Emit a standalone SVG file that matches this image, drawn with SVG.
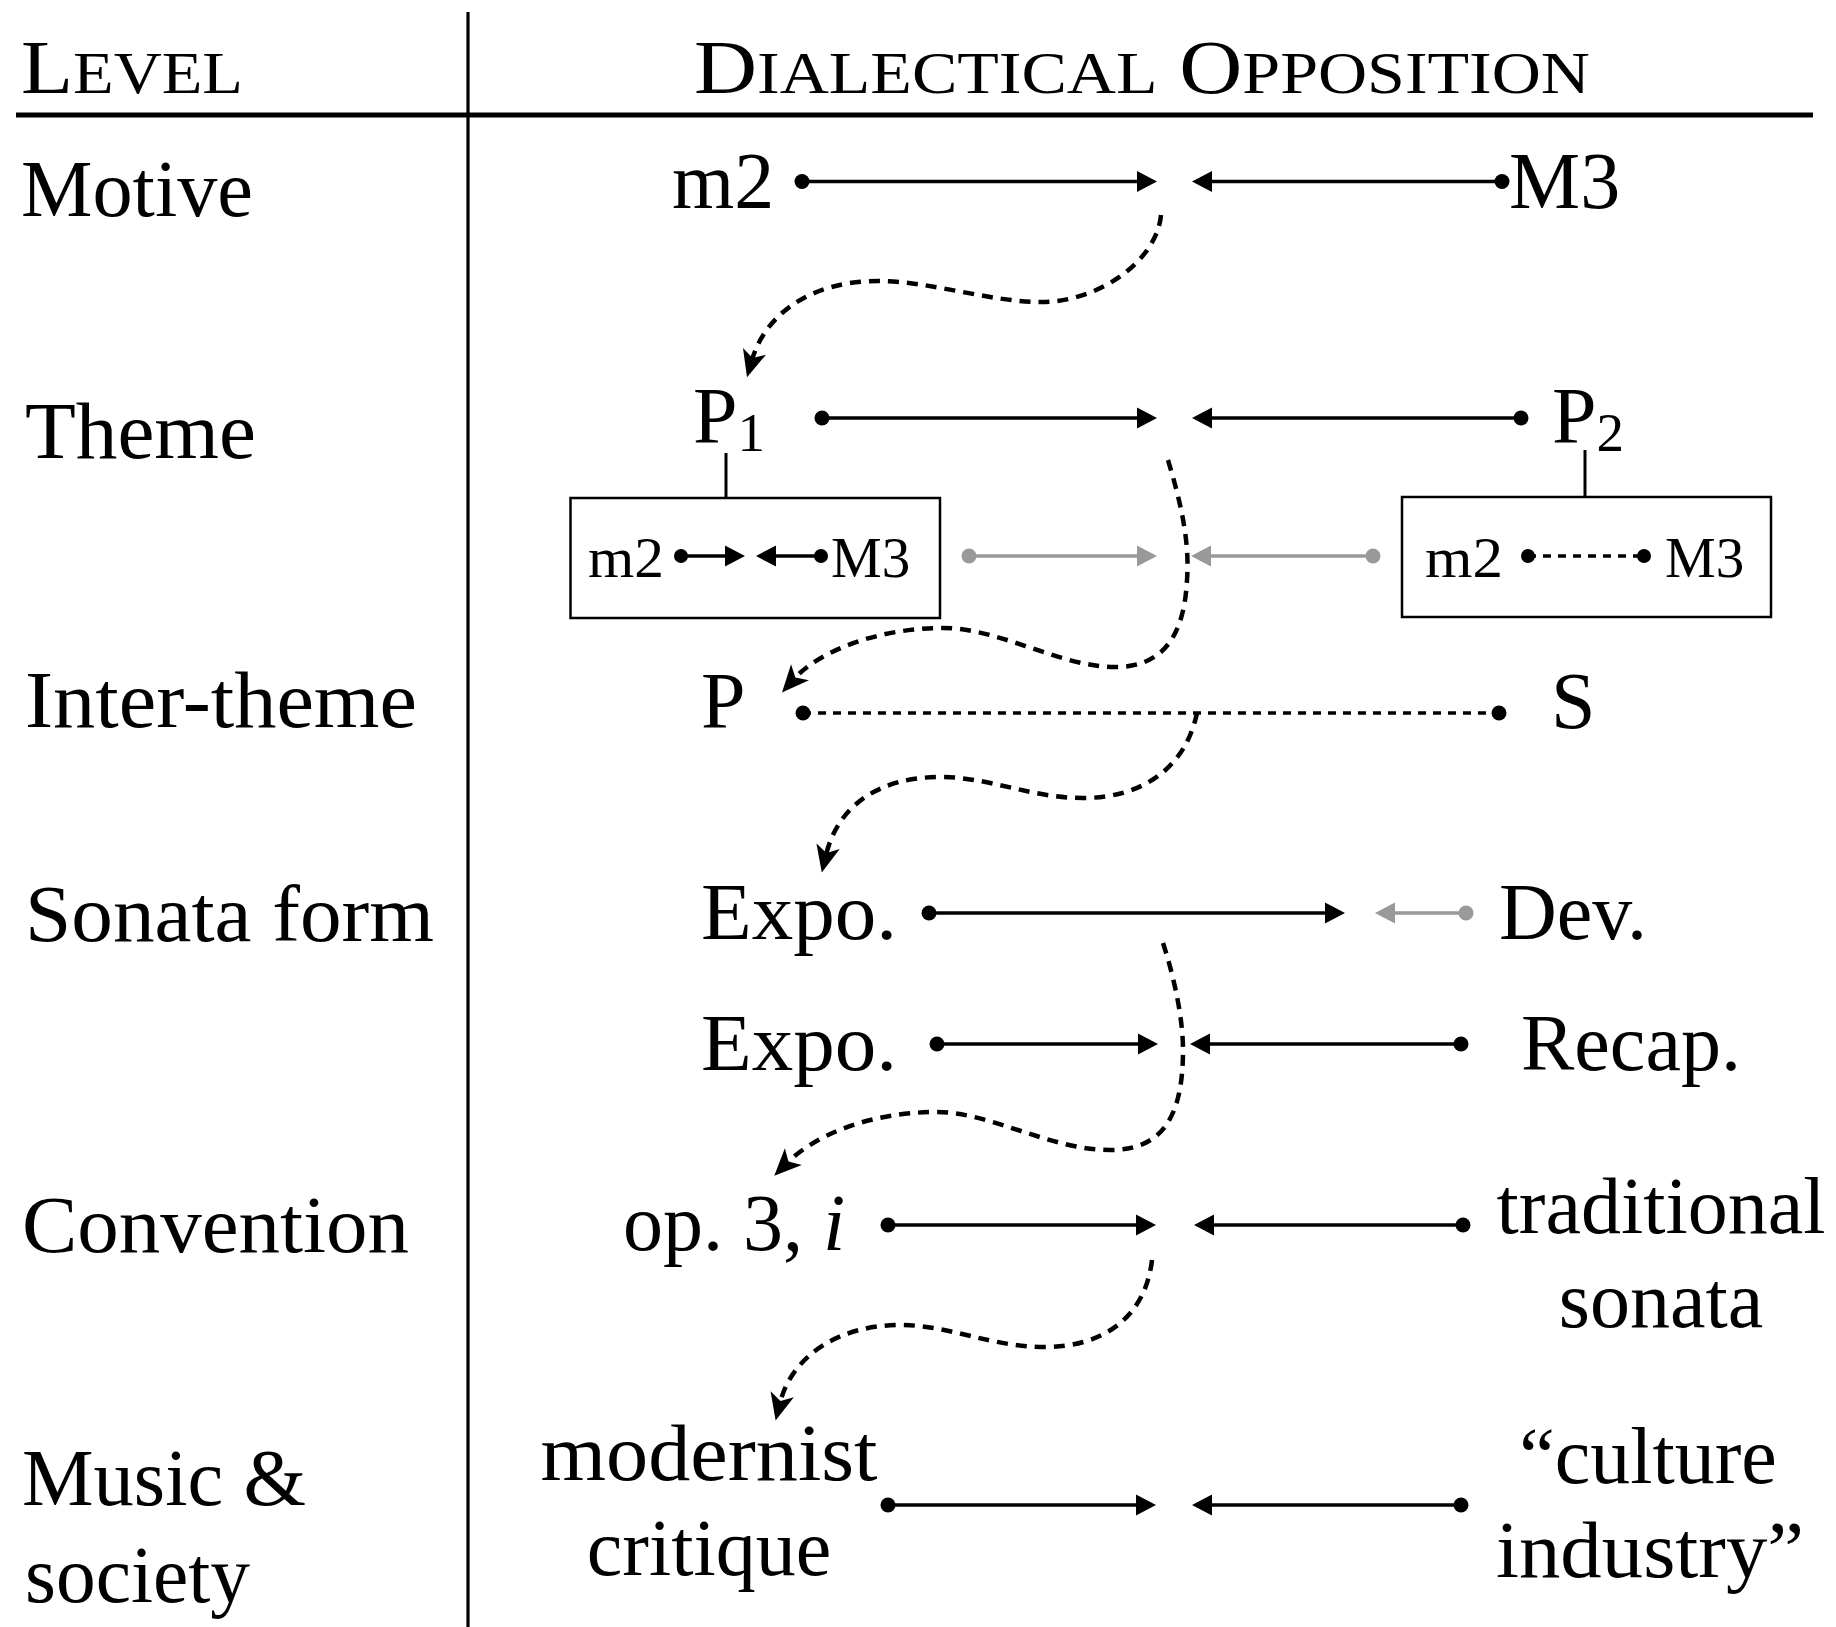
<svg xmlns="http://www.w3.org/2000/svg" width="1836" height="1627" viewBox="0 0 1836 1627">
<style>
  text { font-family: "Liberation Serif", "Times New Roman", serif; fill: #000; }
  .lbl { font-size: 80px; }
  .big { font-size: 80px; }
  .sm { font-size: 57px; }
  .sub { font-size: 55px; }
  .ln { stroke: #000; stroke-width: 3.5; fill: none; }
  .gl { stroke: #999; stroke-width: 3.5; fill: none; }
  .dl { stroke: #000; stroke-width: 3.5; fill: none; stroke-dasharray: 8 7; }
  .cv { stroke: #000; stroke-width: 4.5; fill: none; stroke-dasharray: 11 8; marker-end: url(#stealth); }
  .dot { fill: #000; }
  .gdot { fill: #999; }
  .box { fill: none; stroke: #000; stroke-width: 2.5; }
</style>
<defs>
  <marker id="ah" markerUnits="userSpaceOnUse" orient="auto" overflow="visible" markerWidth="1" markerHeight="1" refX="0" refY="0">
    <path d="M-2,-10.5 L18,0 L-2,10.5 Z" fill="#000"/>
  </marker>
  <marker id="ahg" markerUnits="userSpaceOnUse" orient="auto" overflow="visible" markerWidth="1" markerHeight="1" refX="0" refY="0">
    <path d="M-2,-10.5 L18,0 L-2,10.5 Z" fill="#999"/>
  </marker>
  <marker id="stealth" markerUnits="userSpaceOnUse" orient="auto" overflow="visible" markerWidth="1" markerHeight="1" refX="0" refY="0">
    <path d="M-9,-12 L18,0 L-9,12 L-2,0 Z" fill="#000"/>
  </marker>
</defs>

<g id="table-rules">
  <line x1="468" y1="12" x2="468" y2="1627" stroke="#000" stroke-width="3.2"/>
  <line x1="16" y1="115" x2="1813" y2="115" stroke="#000" stroke-width="4.8"/>
</g>

<g id="header">
  <text x="21" y="93" textLength="222" lengthAdjust="spacingAndGlyphs"><tspan font-size="77">L</tspan><tspan font-size="60">EVEL</tspan></text>
  <text x="694" y="93" textLength="896" lengthAdjust="spacingAndGlyphs"><tspan font-size="77">D</tspan><tspan font-size="60">IALECTICAL</tspan><tspan font-size="77"> O</tspan><tspan font-size="60">PPOSITION</tspan></text>
</g>

<g id="levels">
  <text class="lbl" x="21" y="216" textLength="232" lengthAdjust="spacingAndGlyphs">Motive</text>
  <text class="lbl" x="25" y="458" textLength="231" lengthAdjust="spacingAndGlyphs">Theme</text>
  <text class="lbl" x="25" y="727" textLength="392" lengthAdjust="spacingAndGlyphs">Inter-theme</text>
  <text class="lbl" x="25" y="941" textLength="409" lengthAdjust="spacingAndGlyphs">Sonata form</text>
  <text class="lbl" x="22" y="1252" textLength="387" lengthAdjust="spacingAndGlyphs">Convention</text>
  <text class="lbl" x="22" y="1505" textLength="284" lengthAdjust="spacingAndGlyphs">Music &amp;</text>
  <text class="lbl" x="25" y="1602" textLength="225" lengthAdjust="spacingAndGlyphs">society</text>
</g>

<g id="node-motive">
  <text class="big" x="672" y="208">m2</text>
  <text class="big" x="1509" y="208">M3</text>
</g>
<g id="node-theme">
  <text class="big" x="693" y="443">P<tspan class="sub" dy="8">1</tspan></text>
  <text class="big" x="1552" y="443">P<tspan class="sub" dy="8">2</tspan></text>
</g>
<g id="node-box-left">
  <rect class="box" x="570.5" y="498" width="369.5" height="120"/>
  <text class="sm" x="588" y="577" textLength="76" lengthAdjust="spacingAndGlyphs">m2</text>
  <text class="sm" x="831" y="577">M3</text>
</g>
<g id="node-box-right">
  <rect class="box" x="1402" y="497" width="369" height="120"/>
  <text class="sm" x="1425" y="577" textLength="78" lengthAdjust="spacingAndGlyphs">m2</text>
  <text class="sm" x="1665" y="577">M3</text>
</g>
<g id="node-intertheme">
  <text class="big" x="701" y="728">P</text>
  <text class="big" x="1551" y="728">S</text>
</g>
<g id="node-sonata">
  <text class="big" x="701" y="939" textLength="196" lengthAdjust="spacingAndGlyphs">Expo.</text>
  <text class="big" x="1499" y="939">Dev.</text>
  <text class="big" x="701" y="1070" textLength="196" lengthAdjust="spacingAndGlyphs">Expo.</text>
  <text class="big" x="1521" y="1070">Recap.</text>
</g>
<g id="node-convention">
  <text class="big" x="623" y="1250">op. 3, <tspan font-style="italic">i</tspan></text>
  <text class="big" x="1661" y="1233" text-anchor="middle">traditional</text>
  <text class="big" x="1661" y="1327" text-anchor="middle">sonata</text>
</g>
<g id="node-society">
  <text class="big" x="709" y="1480" text-anchor="middle" textLength="337" lengthAdjust="spacingAndGlyphs">modernist</text>
  <text class="big" x="709" y="1575" text-anchor="middle">critique</text>
  <text class="big" x="1648" y="1483" text-anchor="middle">“culture</text>
  <text class="big" x="1650" y="1577" text-anchor="middle" textLength="308" lengthAdjust="spacingAndGlyphs">industry”</text>
</g>

<g id="connectors">
  <!-- row 1 -->
  <line class="ln" x1="802" y1="181.5" x2="1139" y2="181.5" marker-end="url(#ah)"/>
  <line class="ln" x1="1502" y1="181.5" x2="1210" y2="181.5" marker-end="url(#ah)"/>
  <circle class="dot" cx="802" cy="181.5" r="7.5"/>
  <circle class="dot" cx="1502" cy="181.5" r="7.5"/>
  <!-- row 2 -->
  <line class="ln" x1="822" y1="418" x2="1139" y2="418" marker-end="url(#ah)"/>
  <line class="ln" x1="1521" y1="418" x2="1210" y2="418" marker-end="url(#ah)"/>
  <circle class="dot" cx="822" cy="418" r="7.5"/>
  <circle class="dot" cx="1521" cy="418" r="7.5"/>
  <line x1="726" y1="453" x2="726" y2="498" stroke="#000" stroke-width="3"/>
  <line x1="1585" y1="450" x2="1585" y2="497" stroke="#000" stroke-width="3"/>
  <!-- row 3 inside boxes -->
  <line class="ln" x1="681" y1="556" x2="727" y2="556" marker-end="url(#ah)"/>
  <line class="ln" x1="821" y1="556" x2="774" y2="556" marker-end="url(#ah)"/>
  <circle class="dot" cx="681" cy="556" r="7"/>
  <circle class="dot" cx="821" cy="556" r="7"/>
  <line class="dl" x1="1528" y1="556" x2="1644" y2="556"/>
  <circle class="dot" cx="1528" cy="556" r="7"/>
  <circle class="dot" cx="1644" cy="556" r="7"/>
  <!-- row 3 gray -->
  <line class="gl" x1="969" y1="556" x2="1139" y2="556" marker-end="url(#ahg)"/>
  <line class="gl" x1="1373" y1="556" x2="1209" y2="556" marker-end="url(#ahg)"/>
  <circle class="gdot" cx="969" cy="556" r="7.5"/>
  <circle class="gdot" cx="1373" cy="556" r="7.5"/>
  <!-- row 4 -->
  <line class="dl" x1="803" y1="713" x2="1499" y2="713"/>
  <circle class="dot" cx="803" cy="713" r="7.5"/>
  <circle class="dot" cx="1499" cy="713" r="7.5"/>
  <!-- row 5 -->
  <line class="ln" x1="929" y1="913" x2="1327" y2="913" marker-end="url(#ah)"/>
  <circle class="dot" cx="929" cy="913" r="7.5"/>
  <line class="gl" x1="1466" y1="913" x2="1393" y2="913" marker-end="url(#ahg)"/>
  <circle class="gdot" cx="1466" cy="913" r="7.5"/>
  <!-- row 6 -->
  <line class="ln" x1="937" y1="1044" x2="1140" y2="1044" marker-end="url(#ah)"/>
  <line class="ln" x1="1461" y1="1044" x2="1208" y2="1044" marker-end="url(#ah)"/>
  <circle class="dot" cx="937" cy="1044" r="7.5"/>
  <circle class="dot" cx="1461" cy="1044" r="7.5"/>
  <!-- row 7 -->
  <line class="ln" x1="888" y1="1225" x2="1138" y2="1225" marker-end="url(#ah)"/>
  <line class="ln" x1="1463" y1="1225" x2="1212" y2="1225" marker-end="url(#ah)"/>
  <circle class="dot" cx="888" cy="1225" r="7.5"/>
  <circle class="dot" cx="1463" cy="1225" r="7.5"/>
  <!-- row 8 -->
  <line class="ln" x1="888" y1="1505" x2="1138" y2="1505" marker-end="url(#ah)"/>
  <line class="ln" x1="1461" y1="1505" x2="1210" y2="1505" marker-end="url(#ah)"/>
  <circle class="dot" cx="888" cy="1505" r="7.5"/>
  <circle class="dot" cx="1461" cy="1505" r="7.5"/>

  <!-- curved dashed transitions -->
  <path class="cv" d="M1161,215 C1157,260 1100,302 1041,302 C990,302 930,281 878,281 C810,281 765,315 752,360"/>
  <path class="cv" d="M1168,460 C1180,500 1190,540 1187,580 C1184,640 1160,667 1115,667 C1060,667 1000,628 943,628 C880,628 820,650 794,679"/>
  <path class="cv" d="M1197,713 C1185,770 1140,798 1083,798 C1030,798 990,777 940,777 C880,777 838,805 826,855"/>
  <path class="cv" d="M1163,943 C1175,980 1183,1020 1183,1050 C1183,1120 1160,1150 1110,1150 C1050,1150 990,1112 937,1112 C870,1112 815,1135 787,1163"/>
  <path class="cv" d="M1152,1260 C1145,1320 1100,1347 1045,1347 C990,1347 950,1325 900,1325 C840,1325 792,1355 780,1403"/>
</g>
</svg>
